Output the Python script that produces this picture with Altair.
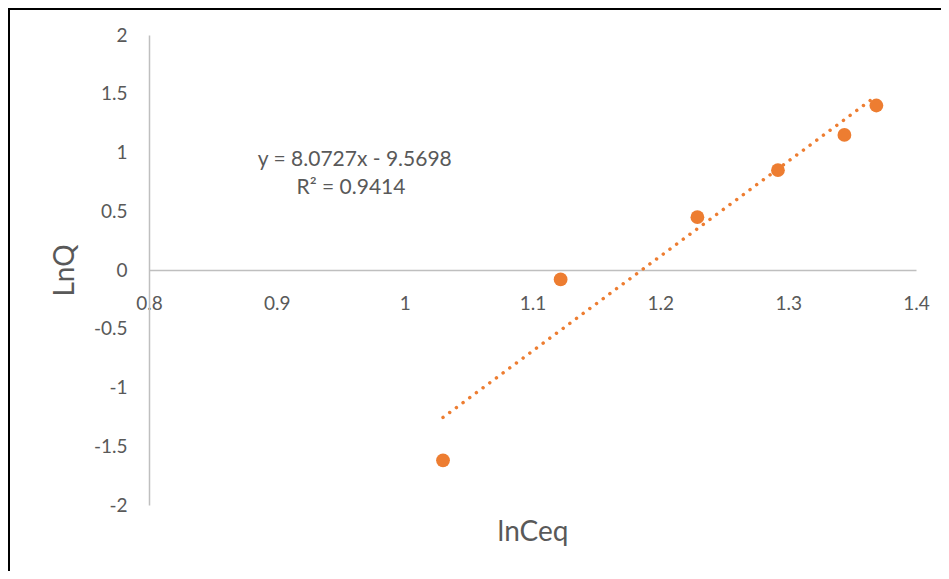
import altair as alt
import pandas as pd

# ---- data ----
ln_ceq = [1.030, 1.122, 1.229, 1.292, 1.344, 1.369]
ln_q = [-1.62, -0.08, 0.45, 0.85, 1.15, 1.40]
slope = 8.0727
intercept = -9.5698
x_ticks = [0.8, 0.9, 1.0, 1.1, 1.2, 1.3, 1.4]
y_ticks = [-2, -1.5, -1, -0.5, 0, 0.5, 1, 1.5, 2]
eq_lines = ["y = 8.0727x - 9.5698", "R² = 0.9414"]
eq_x = [0.961, 0.958]
eq_y = [0.936, 0.698]

FONT = "Lato"
GRAY = "#595959"
ORANGE = "#ED7D31"
AXIS_GRAY = "#BFBFBF"

W, H = 767, 470
PAD = {"left": 141, "top": 27, "right": 25, "bottom": 66}

df = pd.DataFrame({"lnCeq": ln_ceq, "LnQ": ln_q})
ann = pd.DataFrame({"x": eq_x, "y": eq_y, "t": eq_lines})
one = pd.DataFrame({"a": [0]})

xscale = alt.Scale(domain=[0.8, 1.4], nice=False, zero=False)
yscale = alt.Scale(domain=[-2, 2], nice=False, zero=False)

xaxis = alt.Axis(
    values=x_ticks, labelExpr="'' + datum.value", offset=-H / 2,
    domainColor=AXIS_GRAY, domainWidth=1.5, ticks=False, grid=False,
    labelPadding=24, labelFlush=False, labelOverlap=False,
    labelFont=FONT, labelFontSize=19, labelColor=GRAY,
    title="lnCeq", titleFont=FONT, titleFontSize=28, titleColor=GRAY,
    titleFontWeight="normal", titleY=270, titleBaseline="alphabetic",
)
yaxis = alt.Axis(
    values=y_ticks, labelExpr="'' + datum.value",
    domainColor=AXIS_GRAY, domainWidth=1.5, ticks=False, grid=False,
    labelPadding=22, labelOverlap=False, labelFlush=False,
    labelFont=FONT, labelFontSize=19, labelColor=GRAY,
    title="LnQ", titleFont=FONT, titleFontSize=28, titleColor=GRAY,
    titleFontWeight="normal", titleX=-76, titleBaseline="alphabetic", titleAngle=270,
)

trend = alt.Chart(df).transform_calculate(
    fit=f"{slope} * datum.lnCeq + ({intercept})"
).mark_line(
    color=ORANGE, strokeWidth=3.5, strokeDash=[0.01, 8.3], strokeCap="round"
).encode(
    x=alt.X("lnCeq:Q", scale=xscale, axis=xaxis),
    y=alt.Y("fit:Q", scale=yscale, axis=yaxis),
)

points = alt.Chart(df).mark_point(
    filled=True, shape="circle", size=190, color=ORANGE, opacity=1
).encode(
    x=alt.X("lnCeq:Q", scale=xscale),
    y=alt.Y("LnQ:Q", scale=yscale),
)

labels = alt.Chart(ann).mark_text(
    font=FONT, fontSize=21, color=GRAY, align="center", baseline="middle"
).encode(
    x=alt.X("x:Q", scale=xscale),
    y=alt.Y("y:Q", scale=yscale),
    text="t:N",
)

frame_left = alt.Chart(one).mark_rule(color="black", strokeWidth=2).encode(
    x=alt.value(-140), y=alt.value(-PAD["top"]), y2=alt.value(H + PAD["bottom"])
)
frame_top = alt.Chart(one).mark_rule(color="black", strokeWidth=2).encode(
    x=alt.value(-141), x2=alt.value(W + PAD["right"]), y=alt.value(-26)
)

chart = alt.layer(trend, points, labels, frame_left, frame_top).properties(
    width=W, height=H, padding=PAD, autosize="none"
).configure_view(stroke=None)

chart.save("out.html", embed_options={"renderer": "svg", "actions": False})
